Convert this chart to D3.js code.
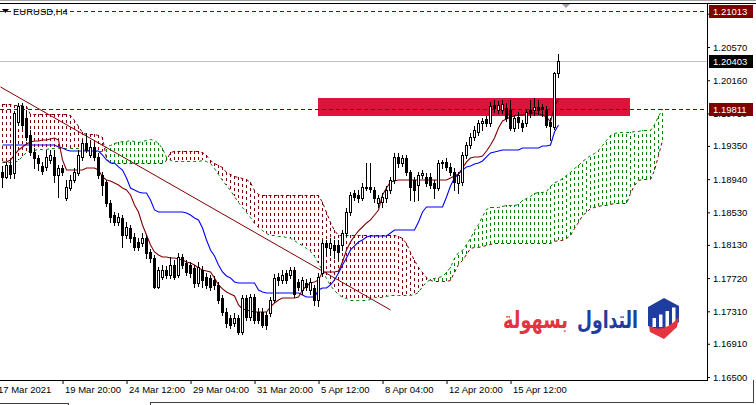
<!DOCTYPE html>
<html><head><meta charset="utf-8">
<script src="https://cdn.jsdelivr.net/npm/d3@7"></script>
<style>html,body{margin:0;padding:0;background:#fff;overflow:hidden}</style>
</head><body>
<svg id="c" width="756" height="405"></svg>
<script>
// ---------------- DATA ----------------
const symbolTitle = "EURUSD,H4";
const open = [1.19028,1.18967,1.19115,1.19016,1.19645,1.19843,1.19694,1.19485,1.19275,1.19201,
1.19103,1.19091,1.19177,1.19214,1.18992,1.19078,1.18708,1.18831,1.18930,1.19016,
1.19214,1.19386,1.19238,1.19337,1.19214,1.18992,1.18905,1.18646,1.18498,1.18412,
1.18462,1.18252,1.18338,1.18227,1.18165,1.18153,1.18215,1.18042,1.17968,1.17610,
1.17734,1.17820,1.17758,1.17882,1.17758,1.17980,1.17906,1.17882,1.17845,1.17660,
1.17820,1.17734,1.17722,1.17697,1.17635,1.17475,1.17302,1.17228,1.17166,1.17228,
1.17055,1.17475,1.17240,1.17487,1.17302,1.17302,1.17265,1.17290,1.17450,1.17734,
1.17697,1.17783,1.17758,1.17820,1.17672,1.17573,1.17660,1.17573,1.17598,1.17450,
1.17783,1.18153,1.18091,1.18128,1.18128,1.18128,1.18276,1.18535,1.18770,1.18745,
1.18708,1.18831,1.18844,1.18807,1.18646,1.18658,1.18708,1.18807,1.18930,1.19214,
1.19140,1.19201,1.19028,1.18930,1.18868,1.18992,1.18967,1.18967,1.18893,1.18831,
1.19140,1.19152,1.19091,1.19028,1.18893,1.18905,1.19238,1.19362,1.19461,1.19522,
1.19633,1.19682,1.19633,1.19855,1.19793,1.19793,1.19818,1.19793,1.19571,1.19707,
1.19633,1.19633,1.19793,1.19793,1.19830,1.19830,1.19793,1.19645,1.19584,1.20250];
const high = [1.19103,1.19152,1.19177,1.19781,1.19880,1.19880,1.19793,1.19547,1.19324,1.19238,
1.19152,1.19300,1.19300,1.19300,1.19115,1.19115,1.18930,1.18992,1.19078,1.19300,
1.19423,1.19510,1.19423,1.19386,1.19263,1.19028,1.18930,1.18683,1.18535,1.18523,
1.18498,1.18412,1.18375,1.18276,1.18215,1.18276,1.18252,1.18079,1.18005,1.17857,
1.17882,1.17869,1.17980,1.17943,1.18030,1.18017,1.17943,1.17918,1.17882,1.17918,
1.17869,1.17783,1.17758,1.17746,1.17672,1.17512,1.17351,1.17265,1.17290,1.17265,
1.17512,1.17512,1.17524,1.17524,1.17351,1.17351,1.17302,1.17487,1.17771,1.17783,
1.17820,1.17820,1.17857,1.17857,1.17709,1.17734,1.17709,1.17722,1.17635,1.17783,
1.18190,1.18190,1.18215,1.18190,1.18190,1.18313,1.18585,1.18782,1.18807,1.18807,
1.18893,1.19140,1.19140,1.18844,1.18745,1.18770,1.18856,1.18967,1.19263,1.19263,
1.19238,1.19238,1.19053,1.18967,1.19028,1.19053,1.19016,1.19016,1.18930,1.19177,
1.19177,1.19201,1.19140,1.19078,1.19028,1.19275,1.19399,1.19510,1.19596,1.19670,
1.19694,1.19719,1.19892,1.19917,1.19904,1.19917,1.19880,1.19917,1.19732,1.19769,
1.19670,1.19793,1.19917,1.19941,1.19917,1.19867,1.19843,1.19694,1.20262,1.20484];
const low = [1.18844,1.18954,1.18954,1.18954,1.19608,1.19571,1.19423,1.19238,1.19078,1.19053,
1.19004,1.19053,1.19140,1.18905,1.18720,1.18992,1.18683,1.18807,1.18905,1.18992,
1.19177,1.19275,1.19214,1.19177,1.18954,1.18745,1.18609,1.18412,1.18375,1.18375,
1.18104,1.18215,1.18165,1.18067,1.18067,1.18116,1.17968,1.17918,1.17598,1.17598,
1.17709,1.17722,1.17722,1.17709,1.17734,1.17845,1.17758,1.17734,1.17610,1.17623,
1.17610,1.17598,1.17573,1.17586,1.17413,1.17265,1.17117,1.17105,1.17129,1.17031,
1.17031,1.17203,1.17203,1.17166,1.17166,1.17117,1.17092,1.17253,1.17425,1.17635,
1.17660,1.17660,1.17722,1.17487,1.17573,1.17524,1.17573,1.17524,1.17388,1.17376,
1.17746,1.18005,1.18005,1.17968,1.17943,1.18067,1.18239,1.18498,1.18683,1.18658,
1.18683,1.18807,1.18782,1.18658,1.18597,1.18597,1.18658,1.18770,1.18893,1.19091,
1.19103,1.18992,1.18683,1.18671,1.18683,1.18954,1.18856,1.18831,1.18708,1.18807,
1.19078,1.19053,1.18992,1.18807,1.18770,1.18868,1.19201,1.19324,1.19423,1.19485,
1.19547,1.19596,1.19596,1.19769,1.19756,1.19756,1.19658,1.19547,1.19534,1.19571,
1.19534,1.19596,1.19707,1.19732,1.19744,1.19719,1.19584,1.19423,1.19559,1.20200];
const close = [1.18967,1.19115,1.19004,1.19756,1.19843,1.19608,1.19461,1.19275,1.19201,1.19140,
1.19041,1.19214,1.19238,1.18992,1.19078,1.19028,1.18844,1.18930,1.19028,1.19238,
1.19386,1.19300,1.19337,1.19214,1.18992,1.18868,1.18646,1.18474,1.18412,1.18474,
1.18252,1.18350,1.18215,1.18104,1.18104,1.18215,1.18030,1.17968,1.17610,1.17820,
1.17820,1.17758,1.17882,1.17734,1.17980,1.17882,1.17795,1.17783,1.17660,1.17857,
1.17697,1.17635,1.17610,1.17635,1.17450,1.17302,1.17166,1.17142,1.17228,1.17055,
1.17475,1.17240,1.17487,1.17203,1.17203,1.17142,1.17142,1.17450,1.17722,1.17697,
1.17758,1.17697,1.17820,1.17524,1.17610,1.17697,1.17610,1.17672,1.17450,1.17734,
1.18153,1.18104,1.18153,1.18067,1.18042,1.18276,1.18535,1.18745,1.18720,1.18708,
1.18844,1.18844,1.18819,1.18708,1.18708,1.18720,1.18807,1.18930,1.19214,1.19140,
1.19201,1.19028,1.18844,1.18807,1.18992,1.19016,1.18893,1.18868,1.18831,1.19140,
1.19152,1.19091,1.19028,1.18905,1.18992,1.19238,1.19362,1.19461,1.19547,1.19633,
1.19658,1.19633,1.19843,1.19818,1.19855,1.19867,1.19694,1.19571,1.19694,1.19645,
1.19584,1.19769,1.19756,1.19830,1.19793,1.19806,1.19608,1.19596,1.20250,1.20403];
const tenkan = [1.19152,1.19152,1.19177,1.19238,1.19300,1.19337,1.19374,1.19399,1.19411,1.19411,
1.19423,1.19423,1.19436,1.19448,1.19423,1.19177,1.19053,1.19053,1.19053,1.19053,
1.19053,1.19078,1.19078,1.19078,1.19053,1.18967,1.18930,1.18918,1.18893,1.18868,
1.18831,1.18807,1.18745,1.18622,1.18535,1.18375,1.18252,1.18128,1.18042,1.18005,
1.17980,1.17980,1.17968,1.17968,1.17955,1.17943,1.17918,1.17906,1.17882,1.17845,
1.17820,1.17808,1.17795,1.17722,1.17635,1.17586,1.17549,1.17524,1.17499,1.17388,
1.17339,1.17327,1.17314,1.17302,1.17302,1.17302,1.17302,1.17364,1.17413,1.17450,
1.17475,1.17475,1.17475,1.17475,1.17487,1.17573,1.17623,1.17660,1.17672,1.17697,
1.17795,1.17795,1.17795,1.17795,1.17808,1.17918,1.18067,1.18165,1.18239,1.18301,
1.18350,1.18400,1.18437,1.18498,1.18560,1.18745,1.18831,1.18905,1.18918,1.18930,
1.18930,1.18930,1.18930,1.18930,1.18930,1.18930,1.18930,1.18930,1.18930,1.18930,
1.18930,1.18930,1.18954,1.18979,1.19004,1.19078,1.19152,1.19201,1.19214,1.19214,
1.19226,1.19287,1.19362,1.19448,1.19571,1.19658,1.19682,1.19707,1.19719,1.19732,
1.19732,1.19744,1.19756,1.19756,1.19744,1.19732,1.19707,1.19645,1.19843,1.19929];
const kijun = [1.19362,1.19362,1.19362,1.19362,1.19362,1.19362,1.19362,1.19362,1.19362,1.19362,
1.19362,1.19362,1.19362,1.19362,1.19337,1.19324,1.19300,1.19287,1.19287,1.19287,
1.19287,1.19287,1.19287,1.19287,1.19287,1.19238,1.19177,1.19140,1.19140,1.19091,
1.19053,1.18954,1.18831,1.18807,1.18782,1.18770,1.18770,1.18683,1.18560,1.18535,
1.18535,1.18535,1.18535,1.18535,1.18535,1.18535,1.18523,1.18498,1.18462,1.18437,
1.18338,1.18190,1.18067,1.17993,1.17882,1.17795,1.17746,1.17722,1.17672,1.17660,
1.17660,1.17660,1.17660,1.17660,1.17573,1.17549,1.17536,1.17536,1.17536,1.17536,
1.17536,1.17536,1.17536,1.17536,1.17536,1.17512,1.17487,1.17487,1.17487,1.17573,
1.17598,1.17598,1.17635,1.17697,1.17783,1.17882,1.17968,1.18067,1.18116,1.18165,
1.18190,1.18227,1.18239,1.18239,1.18239,1.18239,1.18239,1.18276,1.18313,1.18313,
1.18313,1.18313,1.18313,1.18313,1.18412,1.18535,1.18597,1.18597,1.18597,1.18597,
1.18597,1.18720,1.18856,1.18954,1.19004,1.19053,1.19091,1.19103,1.19127,1.19140,
1.19164,1.19214,1.19263,1.19275,1.19287,1.19300,1.19300,1.19300,1.19300,1.19300,
1.19324,1.19324,1.19324,1.19324,1.19324,1.19349,1.19349,1.19362,1.19522,1.19608];
const spanA = [1.19152,1.19152,1.19152,1.19152,1.19177,1.19226,1.19275,1.19300,1.19300,1.19312,
1.19312,1.19312,1.19324,1.19324,1.19324,1.19324,1.19324,1.19324,1.19324,1.19324,
1.19312,1.19300,1.19300,1.19287,1.19287,1.19287,1.19349,1.19362,1.19386,1.19399,
1.19411,1.19411,1.19423,1.19411,1.19399,1.19411,1.19423,1.19436,1.19423,1.19386,
1.19324,1.19214,1.19177,1.19164,1.19164,1.19164,1.19164,1.19164,1.19164,1.19164,
1.19177,1.19164,1.19140,1.19078,1.19004,1.18930,1.18868,1.18807,1.18733,1.18658,
1.18597,1.18535,1.18474,1.18400,1.18350,1.18313,1.18276,1.18252,1.18252,1.18239,
1.18239,1.18227,1.18215,1.18190,1.18153,1.18128,1.18091,1.18054,1.17993,1.17906,
1.17820,1.17722,1.17635,1.17573,1.17524,1.17487,1.17475,1.17450,1.17450,1.17450,
1.17450,1.17450,1.17462,1.17487,1.17487,1.17487,1.17499,1.17512,1.17512,1.17512,
1.17512,1.17512,1.17512,1.17524,1.17549,1.17623,1.17672,1.17709,1.17722,1.17734,
1.17746,1.17795,1.17857,1.17968,1.18042,1.18067,1.18141,1.18215,1.18313,1.18387,
1.18486,1.18572,1.18597,1.18597,1.18597,1.18609,1.18622,1.18622,1.18622,1.18634,
1.18683,1.18708,1.18733,1.18770,1.18782,1.18782,1.18794,1.18856,1.18905,1.18918,
1.18954,1.18992,1.19028,1.19078,1.19115,1.19164,1.19201,1.19238,1.19263,1.19300,
1.19362,1.19423,1.19485,1.19510,1.19522,1.19522,1.19522,1.19522,1.19534,1.19534,
1.19547,1.19547,1.19547,1.19621,1.19719,1.19806];
const spanB = [1.19867,1.19867,1.19867,1.19855,1.19855,1.19855,1.19843,1.19744,1.19744,1.19744,
1.19744,1.19744,1.19744,1.19744,1.19744,1.19744,1.19744,1.19732,1.19670,1.19596,
1.19522,1.19497,1.19497,1.19497,1.19485,1.19461,1.19201,1.19140,1.19140,1.19140,
1.19140,1.19140,1.19140,1.19140,1.19140,1.19140,1.19140,1.19140,1.19140,1.19140,
1.19140,1.19177,1.19275,1.19287,1.19287,1.19287,1.19287,1.19287,1.19287,1.19287,
1.19275,1.19238,1.19177,1.19140,1.19115,1.19091,1.19028,1.19004,1.18979,1.18967,
1.18954,1.18942,1.18905,1.18807,1.18757,1.18745,1.18745,1.18745,1.18745,1.18745,
1.18745,1.18745,1.18745,1.18745,1.18745,1.18745,1.18745,1.18745,1.18745,1.18745,
1.18658,1.18535,1.18412,1.18313,1.18252,1.18252,1.18252,1.18252,1.18252,1.18252,
1.18252,1.18252,1.18252,1.18252,1.18252,1.18252,1.18252,1.18252,1.18252,1.18239,
1.18215,1.18153,1.18042,1.17943,1.17857,1.17795,1.17734,1.17697,1.17684,1.17684,
1.17684,1.17684,1.17697,1.17795,1.17894,1.17943,1.18017,1.18091,1.18104,1.18104,
1.18116,1.18128,1.18141,1.18153,1.18153,1.18153,1.18153,1.18153,1.18153,1.18153,
1.18153,1.18153,1.18153,1.18153,1.18153,1.18153,1.18153,1.18153,1.18178,1.18190,
1.18190,1.18215,1.18252,1.18338,1.18412,1.18498,1.18535,1.18585,1.18597,1.18609,
1.18622,1.18622,1.18634,1.18646,1.18646,1.18646,1.18646,1.18770,1.18868,1.18930,
1.18942,1.18942,1.18942,1.19053,1.19238,1.19423];
const priceTicks = [1.20980,1.20570,1.20160,1.19750,1.19350,1.18940,1.18530,1.18130,1.17720,1.17310,1.16910,1.16500];
const timeBars = [-1.75,15,31,47,63,79,95,111,127];
const timeLabels = ["17 Mar 2021","19 Mar 20:00","24 Mar 12:00","29 Mar 04:00","31 Mar 20:00","5 Apr 12:00","8 Apr 04:00","12 Apr 20:00","15 Apr 12:00"];
const levelPrices = [1.21013, 1.19811];
const currentPrice = 1.20403;
const zoneBars = [79, 157];
const zonePrices = [1.19940, 1.19713];
const trendBars = [-0.5, 97];
const trendPrices = [1.20077, 1.17327];
const logoWords = ["التداول", "بسهولة"];

// ---------------- CHART ----------------
const svg = d3.select("#c");
const FONT = "'Liberation Sans', Arial, sans-serif";
const plotR = 707, plotB = 380, plotT = 4;
const x = d3.scaleLinear().domain([0, 165]).range([2, 662]);
const y = d3.scaleLinear().domain([1.165, 1.2057]).range([377, 47]);
const cx = i => x(i) + 0.5;
const ry = v => Math.round(y(v)) + 0.5;
const RED = "#800000", GREEN = "#008000";

svg.append("rect").attr("width", 756).attr("height", 405).attr("fill", "#fff");
svg.append("defs").append("clipPath").attr("id", "clip")
  .append("rect").attr("x", 0).attr("y", plotT).attr("width", plotR).attr("height", plotB - plotT);
const g = svg.append("g").attr("clip-path", "url(#clip)");

// zone rectangle
g.append("rect")
  .attr("x", x(zoneBars[0])).attr("width", x(zoneBars[1]) - x(zoneBars[0]))
  .attr("y", Math.round(y(zonePrices[0]))).attr("height", Math.round(y(zonePrices[1])) - Math.round(y(zonePrices[0])))
  .attr("fill", "#DC143C").attr("shape-rendering", "crispEdges");

// current price line
g.append("line").attr("x1", 0).attr("x2", plotR).attr("y1", ry(currentPrice)).attr("y2", ry(currentPrice))
  .attr("stroke", "#C0C0C0").attr("shape-rendering", "crispEdges");

// cloud histogram
const cloudData = spanA.map((a, i) => ({ i, a, b: spanB[i] }));
g.append("g").selectAll("line").data(cloudData).join("line")
  .attr("x1", d => cx(d.i)).attr("x2", d => cx(d.i))
  .attr("y1", d => Math.round(y(d.b))).attr("y2", d => Math.round(y(d.a)))
  .attr("stroke", d => d.a > d.b ? GREEN : RED)
  .attr("stroke-dasharray", "3,3").attr("shape-rendering", "crispEdges");

// span lines
const spanLine = d3.line().x((d, i) => cx(i)).y(d => ry(d)).curve(d3.curveLinear);
g.append("path").attr("d", spanLine(spanA)).attr("fill", "none").attr("stroke", GREEN).attr("stroke-dasharray", "3,3");
g.append("path").attr("d", spanLine(spanB)).attr("fill", "none").attr("stroke", RED).attr("stroke-dasharray", "3,3");

// level lines
g.selectAll(".lvl").data(levelPrices).join("line").attr("class", "lvl")
  .attr("x1", 0).attr("x2", plotR).attr("y1", d => ry(d)).attr("y2", d => ry(d))
  .attr("stroke", RED).attr("stroke-dasharray", "4,3").attr("shape-rendering", "crispEdges");

// trend line
g.append("line")
  .attr("x1", cx(trendBars[0])).attr("y1", y(trendPrices[0]))
  .attr("x2", cx(trendBars[1])).attr("y2", y(trendPrices[1]))
  .attr("stroke", RED).attr("stroke-width", 1);

// tenkan / kijun
const ln = d3.line().x((d, i) => cx(i)).y(d => y(d));
g.append("path").attr("d", ln(kijun)).attr("fill", "none").attr("stroke", "#0000FF").attr("stroke-width", 1.1);
g.append("path").attr("d", ln(tenkan)).attr("fill", "none").attr("stroke", RED).attr("stroke-width", 1.1);

// candles
const candles = open.map((o, i) => ({ i, o, h: high[i], l: low[i], c: close[i] }));
const cg = g.append("g").attr("shape-rendering", "crispEdges");
cg.selectAll(".wick").data(candles).join("line").attr("class", "wick")
  .attr("x1", d => cx(d.i)).attr("x2", d => cx(d.i))
  .attr("y1", d => Math.round(y(d.h))).attr("y2", d => Math.round(y(d.l)) + 1)
  .attr("stroke", "#000");
cg.selectAll(".bear").data(candles.filter(d => d.c < d.o)).join("rect").attr("class", "bear")
  .attr("x", d => x(d.i) - 1).attr("width", 3)
  .attr("y", d => Math.round(y(d.o)))
  .attr("height", d => Math.max(1, Math.round(y(d.c)) - Math.round(y(d.o)) + 1))
  .attr("fill", "#000");
cg.selectAll(".bull").data(candles.filter(d => d.c >= d.o)).join("rect").attr("class", "bull")
  .attr("x", d => x(d.i) - 0.5).attr("width", 2)
  .attr("y", d => Math.round(y(d.c)) + 0.5)
  .attr("height", d => Math.max(0, Math.round(y(d.o)) - Math.round(y(d.c))))
  .attr("fill", "#fff").attr("stroke", "#000");

// frame lines
const frame = svg.append("g").attr("shape-rendering", "crispEdges").attr("stroke", "#000");
frame.append("line").attr("x1", 0).attr("x2", 756).attr("y1", 0.5).attr("y2", 0.5).attr("stroke", "#a0a0a0");
frame.append("line").attr("x1", 0).attr("x2", 756).attr("y1", 3.5).attr("y2", 3.5);
frame.append("line").attr("x1", plotR + 0.5).attr("x2", plotR + 0.5).attr("y1", 3).attr("y2", plotB + 1);
frame.append("line").attr("x1", 0).attr("x2", plotR + 1).attr("y1", plotB + 0.5).attr("y2", plotB + 0.5);
frame.append("path").attr("d", "M0,403.5H68.5V405M150.5,405V402.5H753.5V380").attr("fill", "none").attr("stroke", "#404040");

// shift marker
svg.append("path").attr("d", "M562,4L570,4L566,8Z").attr("fill", "#a0a0a0");

// price axis
const ya = svg.append("g").attr("transform", `translate(${plotR},0)`)
  .call(d3.axisRight(y).tickValues(priceTicks).tickSize(3).tickFormat(d3.format(".5f")));
ya.select(".domain").remove();
ya.selectAll("text").attr("x", 6).attr("font-family", FONT).attr("font-size", "9.5px").attr("fill", "#000");
ya.selectAll("line").attr("stroke", "#000");

// time axis
const xa = svg.append("g").attr("transform", `translate(0.5,${plotB})`)
  .call(d3.axisBottom(x).tickValues(timeBars).tickSize(4).tickFormat((d, i) => timeLabels[i]));
xa.select(".domain").remove();
xa.selectAll("text").attr("text-anchor", "start").attr("x", 2).attr("y", 6.5).attr("dy", "0.71em")
  .attr("font-family", FONT).attr("font-size", "9.5px").attr("fill", "#000");
xa.selectAll("line").attr("stroke", "#000");

// price boxes
const boxes = [{ p: levelPrices[0], f: RED }, { p: currentPrice, f: "#000" }, { p: levelPrices[1], f: RED }];
const bg = svg.append("g");
bg.selectAll("rect").data(boxes).join("rect")
  .attr("x", 709).attr("width", 44).attr("y", d => Math.round(y(d.p)) - 6).attr("height", 13)
  .attr("fill", d => d.f).attr("shape-rendering", "crispEdges");
bg.selectAll("text").data(boxes).join("text")
  .attr("x", 713).attr("y", d => Math.round(y(d.p)) + 0.5).attr("dy", "0.35em")
  .attr("font-family", FONT).attr("font-size", "9.5px").attr("fill", "#fff")
  .text(d => d3.format(".5f")(d.p));

// title
svg.append("path").attr("d", "M2,9L9,9L5.5,13Z").attr("fill", "#000");
svg.append("text").attr("x", 13).attr("y", 15).attr("font-family", FONT).attr("font-size", "9.5px")
  .attr("fill", "#000").text(symbolTitle);

// logo
const logo = svg.append("g");
logo.append("path").attr("d", "M648,307L664,298L679,306L679,322L664,332L648,326Z").attr("fill", "#1f3d9e");
[0, 1, 2, 3].forEach(k => {
  logo.append("rect").attr("x", 652.5 + k * 6.5).attr("y", 318 - k * 3.5).attr("width", 3.5).attr("height", 9 + k * 3.5)
    .attr("fill", "#fff");
});
logo.append("path").attr("d", "M649,326Q664,334 679,317L677,327L664,339L650,332Z").attr("fill", "#e4343f");
logo.append("text").attr("x", 577).attr("y", 328).attr("text-anchor", "start")
  .attr("textLength", 61).attr("lengthAdjust", "spacingAndGlyphs")
  .attr("font-family", "'DejaVu Sans', sans-serif").attr("font-weight", "bold").attr("font-size", "24px")
  .attr("fill", "#1f3d9e").text(logoWords[0]);
logo.append("text").attr("x", 503).attr("y", 328).attr("text-anchor", "start")
  .attr("textLength", 65).attr("lengthAdjust", "spacingAndGlyphs")
  .attr("font-family", "'DejaVu Sans', sans-serif").attr("font-weight", "bold").attr("font-size", "24px")
  .attr("fill", "#e4343f").text(logoWords[1]);
</script>
</body></html>
